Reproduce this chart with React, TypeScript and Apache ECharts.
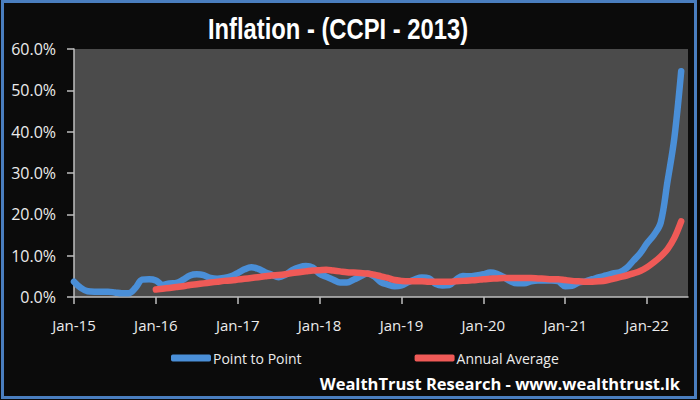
import React, { useEffect, useRef } from "react";
import * as echarts from "echarts";

const monthNames = ["Jan", "Feb", "Mar", "Apr", "May", "Jun", "Jul", "Aug", "Sep", "Oct", "Nov", "Dec"];
const yearSuffixes = ["15", "16", "17", "18", "19", "20", "21", "22"];
// Jan-15 .. Jul-22 (axis extends one month past the last observation)
const categories: string[] = yearSuffixes
  .flatMap((y) => monthNames.map((m) => `${m}-${y}`))
  .slice(0, 91);

const yTicks = [0, 10, 20, 30, 40, 50, 60];

// Point to Point (YoY %)
const p2p2015 = [3.7, 2.2, 1.4, 1.3, 1.3, 1.3, 1.1, 0.9, 0.9, 2.2, 4.2, 4.3];
const p2p2016 = [4.0, 2.9, 3.3, 3.4, 4.2, 5.2, 5.5, 5.3, 4.6, 4.4, 4.6, 5.0];
const p2p2017 = [5.8, 6.7, 7.2, 6.8, 6.0, 5.4, 4.8, 5.4, 6.5, 7.2, 7.5, 7.1];
const p2p2018 = [5.6, 4.9, 4.2, 3.5, 3.5, 4.2, 5.0, 5.7, 5.0, 3.6, 3.0, 2.6];
const p2p2019 = [2.8, 3.6, 4.3, 4.7, 4.5, 3.2, 2.8, 2.9, 4.2, 5.1, 5.0, 5.2];
const p2p2020 = [5.5, 5.9, 5.6, 4.8, 3.8, 3.3, 3.3, 3.8, 4.0, 4.0, 4.0, 3.8];
const p2p2021 = [2.6, 2.7, 3.5, 3.8, 4.3, 4.8, 5.2, 5.7, 6.0, 7.0, 8.8, 10.6];
const p2p2022 = [13.0, 15.0, 18.0, 28.0, 38.5, 54.6];

// Annual Average (%)
const avg2016 = [1.8, 2.0, 2.2, 2.4, 2.6, 2.9, 3.1, 3.3, 3.5, 3.7, 3.9, 4.0];
const avg2017 = [4.2, 4.4, 4.6, 4.8, 5.0, 5.2, 5.3, 5.5, 5.8, 6.0, 6.2, 6.4];
const avg2018 = [6.5, 6.6, 6.4, 6.2, 6.0, 5.9, 5.8, 5.7, 5.4, 5.0, 4.6, 4.1];
const avg2019 = [3.9, 3.8, 3.8, 3.8, 3.7, 3.7, 3.7, 3.7, 3.8, 3.9, 4.0, 4.1];
const avg2020 = [4.3, 4.4, 4.5, 4.6, 4.6, 4.6, 4.6, 4.6, 4.5, 4.4, 4.3, 4.3];
const avg2021 = [4.1, 3.9, 3.8, 3.7, 3.7, 3.8, 4.0, 4.4, 4.8, 5.2, 5.7, 6.3];
const avg2022 = [7.2, 8.4, 9.8, 11.6, 14.3, 18.3];

const pointToPoint: (number | null)[] = [
  ...p2p2015, ...p2p2016, ...p2p2017, ...p2p2018, ...p2p2019, ...p2p2020, ...p2p2021, ...p2p2022, null,
];
const annualAverage: (number | null)[] = [
  ...Array(12).fill(null), ...avg2016, ...avg2017, ...avg2018, ...avg2019, ...avg2020, ...avg2021, ...avg2022, null,
];

const BLUE = "#4a8fd8";
const RED = "#ef5a57";
const AXIS = "#bfbfbf";
const TEXT = "#ececec";

export default function App() {
  const ref = useRef<HTMLDivElement>(null);
  useEffect(() => {
    document.body.style.margin = "0";
    if (!ref.current) return;
    const chart = echarts.init(ref.current, undefined, { renderer: "svg" });
    chart.setOption({
      animation: false,
      backgroundColor: "#0b0b0b",
      grid: {
        left: 74,
        right: 12,
        top: 49,
        bottom: 103,
        show: true,
        backgroundColor: "#4b4b4b",
        borderWidth: 0,
      },
      xAxis: {
        type: "category",
        data: categories,
        boundaryGap: false,
        axisLine: { show: true, lineStyle: { color: AXIS, width: 1.5 } },
        axisTick: { show: true, interval: 11, length: 7, lineStyle: { color: AXIS, width: 1.5 } },
        axisLabel: {
          interval: 11,
          color: TEXT,
          fontSize: 15,
          fontFamily: "Open Sans",
          margin: 20,
        },
        splitLine: { show: false },
      },
      yAxis: {
        type: "value",
        min: yTicks[0],
        max: yTicks[yTicks.length - 1],
        interval: 10,
        axisLine: { show: true, lineStyle: { color: AXIS, width: 1.5 } },
        axisTick: { show: true, length: 7, lineStyle: { color: AXIS, width: 1.5 } },
        axisLabel: {
          color: TEXT,
          fontSize: 16,
          fontFamily: "Open Sans",
          margin: 18,
          formatter: (v: number) => v.toFixed(1) + "%",
        },
        splitLine: { show: false },
      },
      legend: {
        left: 166,
        top: 346,
        itemWidth: 40,
        itemHeight: 7,
        itemGap: 113,
        icon: "roundRect",
        textStyle: { color: TEXT, fontSize: 14, fontFamily: "Open Sans", padding: [0, 0, 0, -3] },
        data: ["Point to Point", "Annual Average"],
      },
      series: [
        {
          name: "Point to Point",
          type: "line",
          data: pointToPoint,
          smooth: 0.35,
          showSymbol: false,
          symbol: "none",
          lineStyle: { color: BLUE, width: 6.5, cap: "round", join: "round" },
          itemStyle: { color: BLUE },
          z: 2,
        },
        {
          name: "Annual Average",
          type: "line",
          data: annualAverage,
          smooth: 0.35,
          showSymbol: false,
          symbol: "none",
          lineStyle: { color: RED, width: 6.5, cap: "round", join: "round" },
          itemStyle: { color: RED },
          z: 3,
        },
      ],
      graphic: [
        {
          type: "text",
          x: 338,
          y: 29,
          scaleX: 0.82,
          style: {
            text: "Inflation - (CCPI - 2013)",
            fill: "#ffffff",
            font: "bold 29px 'Liberation Sans', Arial, sans-serif",
            textAlign: "center",
            textVerticalAlign: "middle",
          },
          z: 10,
        },
        {
          type: "text",
          x: 680,
          y: 383,
          style: {
            text: "WealthTrust Research - www.wealthtrust.lk",
            fill: "#ffffff",
            font: "bold 16.5px 'Open Sans', sans-serif",
            textAlign: "right",
            textVerticalAlign: "middle",
          },
          z: 10,
        },
        {
          type: "rect",
          shape: { x: 2.5, y: 1.5, width: 693, height: 396 },
          style: { fill: "none", stroke: "#4a7ebf", lineWidth: 3 },
          z: 20,
        },
      ],
    });
    return () => chart.dispose();
  }, []);
  return (
    <div
      ref={ref}
      style={{ position: "absolute", left: 0, top: 0, width: 700, height: 400, background: "#ffffff" }}
    />
  );
}
